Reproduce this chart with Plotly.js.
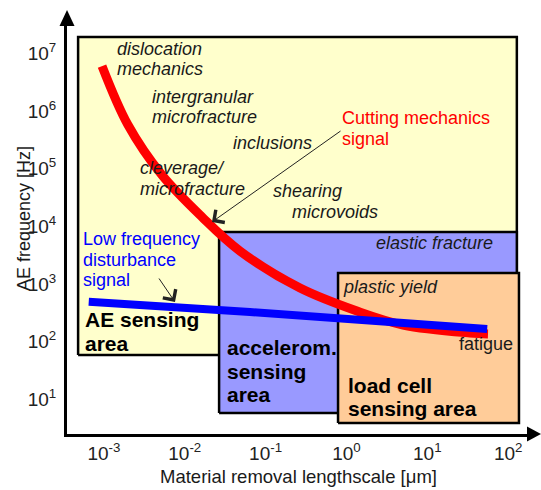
<!DOCTYPE html>
<html><head><meta charset="utf-8">
<script src="https://cdn.plot.ly/plotly-3.0.1.min.js"></script>
<style>html,body{margin:0;padding:0;background:#fff}</style>
</head><body><div id="chart" style="width:541px;height:490px"></div>
<script>
// ---- data ----
const cuttingX = [0.000949, 0.00199, 0.00524, 0.01636, 0.0483, 0.2666, 1.351, 5.01, 33.7, 56.3];
const cuttingY = [6.09e6, 5.76e5, 7.76e4, 1.46e4, 3740, 853, 340, 194, 141, 135.5];
const disturbX = [0.00065, 0.064, 55];
const disturbY = [490, 327, 166];
const regionNames = ['AE sensing area', 'accelerom. sensing area', 'load cell sensing area'];
const regionX0 = [4.8e-4, 0.0266, 0.787];
const regionX1 = [128, 128, 136];
const regionY0 = [58.5, 5.75, 3.86];
const regionY1 = [1.94e7, 8000, 1552];
const xTickExp = [-3, -2, -1, 0, 1, 2];
const yTickExp = [1, 2, 3, 4, 5, 6, 7];

// ---- styling ----
const FONT = 'Liberation Sans, Arial, sans-serif';
const regionColors = ['#FFFFCC', '#9999FF', '#FFCC99'];
const L = 67, R = 530, T = 25, B = 434;
const px = x => (x - L) / (R - L);
const py = y => (B - y) / (B - T);

const traces = [];
regionNames.forEach((n, i) => {
  traces.push({
    type: 'scatter', mode: 'lines', name: n,
    x: [regionX0[i], regionX1[i], regionX1[i], regionX0[i], regionX0[i]],
    y: [regionY0[i], regionY0[i], regionY1[i], regionY1[i], regionY0[i]],
    fill: 'toself', fillcolor: regionColors[i],
    line: {color: '#000', width: 2.5}, hoverinfo: 'skip'
  });
});
traces.push({type: 'scatter', mode: 'lines', name: 'Cutting mechanics signal',
  x: cuttingX, y: cuttingY, line: {color: '#FF0000', width: 9, shape: 'spline', smoothing: 1}});
traces.push({type: 'scatter', mode: 'lines', name: 'Low frequency disturbance signal',
  x: disturbX, y: disturbY, line: {color: '#0000FF', width: 8}});

function txt(text, x, y, opt) {
  opt = opt || {};
  return Object.assign({
    text: text, xref: 'paper', yref: 'paper', x: px(x - 2), y: py(y),
    xanchor: 'left', yanchor: 'middle', showarrow: false,
    font: {family: FONT, size: opt.size || 18, color: opt.color || '#1a1a1a',
      style: opt.italic ? 'italic' : 'normal', weight: opt.bold ? 'bold' : 'normal'}
  }, opt.extra || {});
}
const it = {italic: true};
const bold = {bold: true, size: 21, color: '#000'};
const annotations = [
  txt('dislocation', 117, 48.5, it), txt('mechanics', 117, 69, it),
  txt('intergranular', 152, 97.5, it), txt('microfracture', 152, 117, it),
  txt('inclusions', 233, 142.5, it),
  txt('cleverage/', 140, 168, it), txt('microfracture', 140, 188.5, it),
  txt('shearing', 273, 191, it), txt('microvoids', 292, 212, it),
  txt('elastic fracture', 376, 242.5, it),
  txt('plastic yield', 343, 287, it),
  txt('fatigue', 459, 344),
  txt('Cutting mechanics', 342, 118, {color: '#FF0000'}), txt('signal', 342, 139, {color: '#FF0000'}),
  txt('Low frequency', 83, 239, {color: '#0000FF'}), txt('disturbance', 83, 259.5, {color: '#0000FF'}),
  txt('signal', 83, 279.5, {color: '#0000FF'}),
  txt('AE sensing', 85, 319, bold), txt('area', 85, 343, bold),
  txt('accelerom.', 227, 347, bold), txt('sensing', 227, 371, bold), txt('area', 227, 394.3, bold),
  txt('load cell', 348, 385, bold), txt('sensing area', 348, 408.5, bold),
  txt('AE frequency [Hz]', 26, 219, {extra: {textangle: -90, xanchor: 'center'}}),
  // arrows
  {text: '', xref: 'paper', yref: 'paper', x: px(212), y: py(222), ax: 130, ay: -92,
   showarrow: true, arrowhead: 4, arrowsize: 3, arrowwidth: 1, arrowcolor: '#222'},
  {text: '', xref: 'paper', yref: 'paper', x: px(175), y: py(302), ax: -17, ay: -25,
   showarrow: true, arrowhead: 4, arrowsize: 3, arrowwidth: 1, arrowcolor: '#222'}
];

const shapes = [
  {type: 'path', xref: 'paper', yref: 'paper', fillcolor: '#000', line: {width: 0},
   path: `M${px(541)},${py(434)} L${px(527)},${py(426.5)} L${px(527)},${py(441.5)} Z`},
  {type: 'path', xref: 'paper', yref: 'paper', fillcolor: '#000', line: {width: 0},
   path: `M${px(67)},${py(10)} L${px(59.5)},${py(26)} L${px(74.5)},${py(26)} Z`}
];

const layout = {
  width: 541, height: 490, showlegend: false,
  margin: {l: L, r: 541 - R, t: T, b: 490 - B, pad: 0},
  paper_bgcolor: '#fff', plot_bgcolor: '#fff',
  font: {family: FONT, size: 18, color: '#1a1a1a'},
  xaxis: {type: 'log', range: [-3.456, 2.270], showgrid: false, zeroline: false,
    showline: true, linewidth: 3, linecolor: '#000', ticks: '',
    tickmode: 'array', tickvals: xTickExp.map(e => Math.pow(10, e)),
    ticktext: xTickExp.map(e => '10<sup>' + e + '</sup>'),
    tickfont: {family: FONT, size: 19, color: '#222'},
    title: {text: 'Material removal lengthscale [\u03bcm]', font: {family: FONT, size: 18.5, color: '#1a1a1a'}, standoff: 8}},
  yaxis: {type: 'log', range: [0.396, 7.497], showgrid: false, zeroline: false,
    showline: true, linewidth: 3, linecolor: '#000', ticks: '',
    tickmode: 'array', tickvals: yTickExp.map(e => Math.pow(10, e)),
    ticktext: yTickExp.map(e => '10<sup>' + e + '</sup>'),
    tickfont: {family: FONT, size: 19, color: '#222'}, ticklabelstandoff: 4},
  annotations: annotations, shapes: shapes
};
Plotly.newPlot('chart', traces, layout, {staticPlot: true, displayModeBar: false});
</script></body></html>
